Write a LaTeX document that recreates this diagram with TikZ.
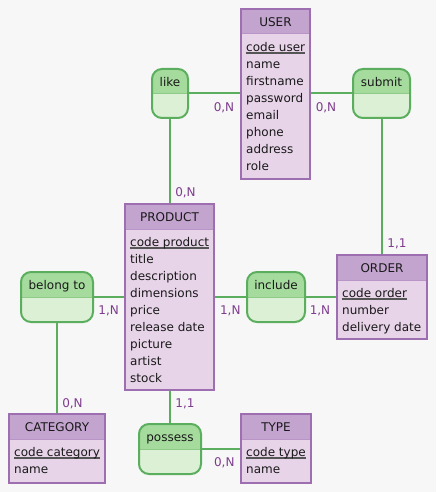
\documentclass[tikz,border=0pt]{standalone}
\usepackage{fontspec}
\setmainfont{DejaVu Sans}
\definecolor{bgcol}{HTML}{F7F7F7}
\definecolor{entline}{HTML}{9D6FB1}
\definecolor{enthead}{HTML}{C3A4CF}
\definecolor{entbody}{HTML}{E8D4E9}
\definecolor{entsepc}{HTML}{B895C6}
\definecolor{relline}{HTML}{5BAE5E}
\definecolor{relhead}{HTML}{A6DB9E}
\definecolor{relbody}{HTML}{DCF0D5}
\definecolor{relsepc}{HTML}{8FCB88}
\definecolor{cardcol}{HTML}{7E3C8E}
\definecolor{ulcol}{HTML}{555555}
\pgfdeclarelayer{back}
\pgfdeclarelayer{bg}
\pgfsetlayers{back,bg,main}
\newcommand\myul[1]{\setbox0\hbox{#1}\rlap{\textcolor{ulcol}{\rule[-2.2pt]{\wd0}{1.3pt}}}\box0}
\tikzset{
  entshape/.style={fill=entbody, inner sep=0pt, outer sep=0pt},
  relshape/.style={fill=relbody, inner sep=0pt, outer sep=0pt, rounded corners=10pt},
  entborder/.style={draw=entline, line width=2pt},
  relborder/.style={draw=relline, line width=2pt, rounded corners=10pt},
  entsep/.style={draw=entsepc, line width=1pt},
  relsep/.style={draw=relsepc, line width=1pt},
  titletext/.style={inner sep=0pt, font=\fontsize{12}{17}\selectfont, text=black!90},
  attrtext/.style={inner sep=0pt, align=left, font=\fontsize{12}{17}\selectfont, text=black!90},
  card/.style={inner sep=0pt, font=\fontsize{12}{17}\selectfont, text=cardcol, anchor=base},
  conn/.style={draw=relline, line width=2pt}
}
\newcommand\erEntity[7]{%
  \node[entshape, minimum width=#4pt, minimum height=#5pt] (#1) at (#2,#3) {};
  \fill[enthead] (#1.north west) rectangle ([yshift=-25pt]#1.north east);
  \draw[entsep] ([yshift=-25pt]#1.north west) -- ([yshift=-25pt]#1.north east);
  \draw[entborder] (#1.north west) rectangle (#1.south east);
  \node[titletext, anchor=base] (#1-title) at ([yshift=-17.5pt]#1.north) {#6};
  \node[attrtext, anchor=north west] (#1-attrs) at ([xshift=5pt,yshift=-30.4pt]#1.north west) {\strut #7};
}
\newcommand\erRel[6]{%
  \node[relshape, minimum width=#4pt, minimum height=#5pt] (#1) at (#2,#3) {};
  \begin{scope}
    \clip (#1.north west) rectangle ([yshift=-25pt]#1.north east);
    \fill[relhead, rounded corners=10pt] (#1.north west) rectangle (#1.south east);
  \end{scope}
  \draw[relsep] ([yshift=-25pt]#1.north west) -- ([yshift=-25pt]#1.north east);
  \draw[relborder] (#1.north west) rectangle (#1.south east);
  \node[titletext, anchor=base] (#1-title) at ([yshift=-17.5pt]#1.north) {#6};
}
\begin{document}
\begin{tikzpicture}[x=1pt,y=-1pt]
\begin{pgfonlayer}{back}
\fill[bgcol] (0,0) rectangle (436,492);
\end{pgfonlayer}
\useasboundingbox (0,0) rectangle (436,492);

% entities
\erEntity{user}{275.5}{94}{69}{170}{USER}{\myul{code user}\\name\\firstname\\password\\email\\phone\\address\\role}
\erEntity{product}{169.5}{297}{89}{186}{PRODUCT}{\myul{code product}\\title\\description\\dimensions\\price\\release date\\picture\\artist\\stock}
\erEntity{order}{382}{297}{90}{84}{ORDER}{\myul{code order}\\number\\delivery date}
\erEntity{category}{57}{448.5}{96}{69}{CATEGORY}{\myul{code category}\\name}
\erEntity{type}{276}{448.5}{70}{69}{TYPE}{\myul{code type}\\name}

% relationships
\erRel{like}{170}{93.5}{36}{49}{like}
\erRel{submit}{381.5}{93.5}{57}{49}{submit}
\erRel{belong}{57}{297}{72}{50}{belong to}
\erRel{include}{276}{297}{58}{50}{include}
\erRel{possess}{170}{449}{62}{50}{possess}

% connectors
\begin{pgfonlayer}{bg}
\draw[conn] (like.east) -- (like.east -| user.west);
\draw[conn] (submit.west) -- (submit.west -| user.east);
\draw[conn] (like.south) -- (like.south |- product.north);
\draw[conn] (submit.south) -- (submit.south |- order.north);
\draw[conn] (belong.east) -- (belong.east -| product.west);
\draw[conn] (include.west) -- (include.west -| product.east);
\draw[conn] (include.east) -- (include.east -| order.west);
\draw[conn] (belong.south) -- (belong.south |- category.north);
\draw[conn] (possess.north) -- (possess.north |- product.south);
\draw[conn] (possess.east) -- (possess.east -| type.west);
\end{pgfonlayer}

% cardinalities
\node[card] (c1) at (224,111.5) {0,N};
\node[card] (c2) at (326,111.5) {0,N};
\node[card] (c3) at (185.5,196) {0,N};
\node[card] (c4) at (397,247.5) {1,1};
\node[card] (c5) at (108.7,314.5) {1,N};
\node[card] (c6) at (230.3,314.5) {1,N};
\node[card] (c7) at (320,314.5) {1,N};
\node[card] (c8) at (72.5,407) {0,N};
\node[card] (c9) at (185,407) {1,1};
\node[card] (c10) at (224.3,466) {0,N};
\end{tikzpicture}
\end{document}
